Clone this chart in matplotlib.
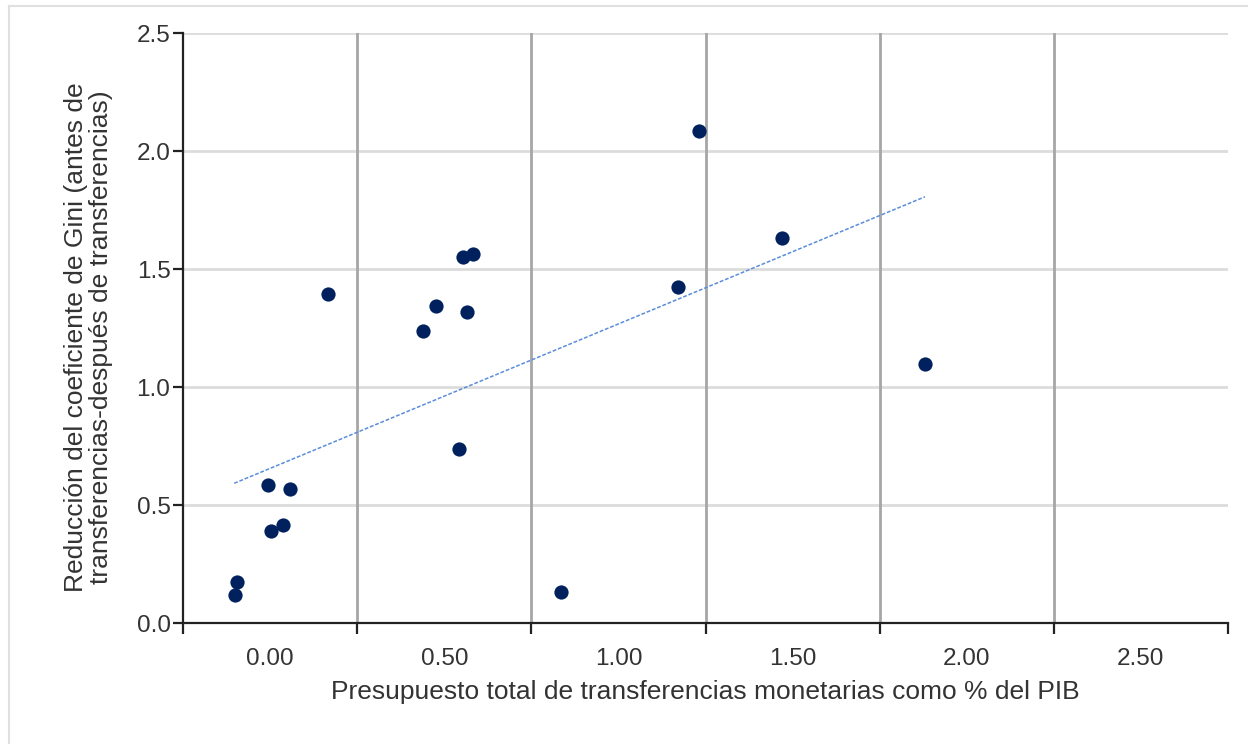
import matplotlib
matplotlib.use("Agg")
import matplotlib.pyplot as plt
from matplotlib.lines import Line2D
import numpy as np

plt.rcParams['font.family'] = ['Liberation Sans', 'DejaVu Sans']

# Data
presupuesto_pib = [-0.101, -0.095, -0.005, 0.003, 0.038, 0.056, 0.167, 0.440, 0.477,
                   0.542, 0.553, 0.564, 0.583, 0.836, 1.171, 1.231, 1.470, 1.879]
reduccion_gini = [0.119, 0.172, 0.585, 0.390, 0.415, 0.569, 1.392, 1.236, 1.343,
                  0.737, 1.550, 1.318, 1.565, 0.130, 1.422, 2.086, 1.633, 1.096]
trend_x = [-0.103, 1.880]
trend_y = [0.592, 1.806]

x_grid_ticks = [-0.25, 0.25, 0.75, 1.25, 1.75, 2.25, 2.75]
x_label_pos = [0.0, 0.5, 1.0, 1.5, 2.0, 2.5]
x_tick_labels = ["0.00", "0.50", "1.00", "1.50", "2.00", "2.50"]
y_ticks = [0.0, 0.5, 1.0, 1.5, 2.0, 2.5]
y_tick_labels = ["0.0", "0.5", "1.0", "1.5", "2.0", "2.5"]

W, H = 1248, 744
fig = plt.figure(figsize=(W / 100, H / 100), dpi=100)
fig.patch.set_facecolor('white')

# light outer border (top and left)
fig.add_artist(Line2D([9 / W, 1], [1 - 6 / H, 1 - 6 / H], color='#e0e0e0', lw=1.5))
fig.add_artist(Line2D([9 / W, 9 / W], [0, 1 - 6 / H], color='#e0e0e0', lw=1.5))

ax = fig.add_axes([183 / W, 1 - 623 / H, (1228 - 183) / W, (623 - 33) / H])
ax.set_xlim(-0.25, 2.75)
ax.set_ylim(0, 2.5)

# grid
for yv in y_ticks[1:]:
    ax.axhline(yv, color='#dcdcdc', lw=2, zorder=0)
for xv in x_grid_ticks[1:-1]:
    ax.axvline(xv, color='#a6a6a6', lw=2, zorder=0)

ax.scatter(presupuesto_pib, reduccion_gini, s=105, color='#00215e', zorder=3, linewidths=0)
ax.plot(trend_x, trend_y, color='#5b8ddb', lw=1.1, ls=(0, (2.5, 1.2)), zorder=2)

for s in ['top', 'right']:
    ax.spines[s].set_visible(False)
for s in ['left', 'bottom']:
    ax.spines[s].set_color('#222222')
    ax.spines[s].set_linewidth(1.6)

ax.set_yticks(y_ticks)
ax.set_yticklabels(y_tick_labels)
ax.set_xticks(x_grid_ticks)
ax.set_xticklabels([])
ax.set_xticks(x_label_pos, minor=True)
ax.set_xticklabels(x_tick_labels, minor=True)
ax.tick_params(axis='x', which='major', length=8, width=1.6, color='#222222')
ax.tick_params(axis='x', which='minor', length=0, pad=18, labelsize=17.5, labelcolor='#333333')
ax.tick_params(axis='y', which='major', length=7, width=1.6, color='#222222',
               pad=2, labelsize=17.5, labelcolor='#333333')

ax.set_xlabel("Presupuesto total de transferencias monetarias como % del PIB",
              fontsize=19, color='#333333')
ax.xaxis.set_label_coords(0.5, -0.096)
ax.set_ylabel("Reducción del coeficiente de Gini (antes de\ntransferencias-después de transferencias)",
              fontsize=19, color='#333333', linespacing=1.05)
ax.yaxis.set_label_coords(-0.067, 0.485)

fig.savefig("out.png", dpi=100, facecolor='white')
